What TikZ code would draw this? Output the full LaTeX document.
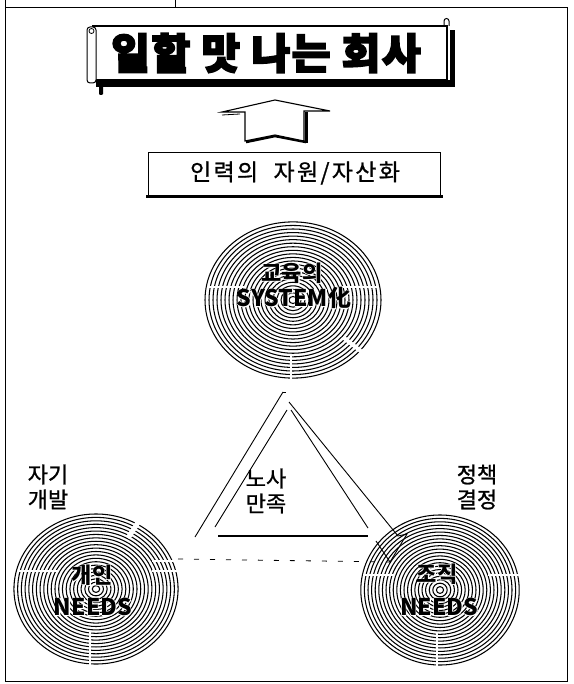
\documentclass[tikz,border=0pt]{standalone}
\usepackage{fontspec}
\newfontfamily\kr{Noto Sans CJK KR}
\newfontfamily\krheavy{Noto Sans CJK KR}[BoldFeatures={FakeBold=4}]
\newfontfamily\krmid{Noto Sans CJK KR}[FakeBold=1]
\begin{document}
\begin{tikzpicture}[x=1pt,y=-1pt,
  frameline/.style={line width=0.9pt},
  ring/.style={line width=1.05pt},
  gap/.style={white,line width=2.6pt},
  tri/.style={line width=0.9pt},
  lbl/.style={font=\krmid\fontsize{22}{24}\selectfont, inner sep=0pt, align=center},
  halo/.style={text=white, inner sep=0pt},
  ctext/.style={font=\kr\bfseries\fontsize{22}{24}\selectfont, inner sep=0pt},
  etext/.style={font=\kr\bfseries\fontsize{23}{26}\selectfont, inner sep=0pt}]
\useasboundingbox (0,0) rectangle (573,684);
% frame
\draw[frameline] (5,0) -- (5,681) -- (567,681) -- (567,7) -- (5,7);
\draw[frameline] (175,0) -- (175,7);
% ---- banner ----
\draw[line width=1.1pt] (93,26) rectangle (447,80);
\fill (96,80) rectangle (455,87);
\fill[rounded corners=1pt] (99,85) rectangle (103,95);
\fill (450,30) rectangle (455,87);
\draw[line width=1pt, fill=white, rounded corners=3pt] (87,27) rectangle (96,83);
\draw[line width=0.8pt] (91.5,31) circle (2.5pt);
\draw[line width=1pt] (444,26) -- (444,21) arc[start angle=180, end angle=0, radius=2.5pt] -- (449,26);
\node[font=\krheavy\bfseries\fontsize{42}{46}\selectfont, inner sep=0pt] (title) at (266,53) {\addfontfeature{LetterSpace=4}일할 맛 나는 회사};
% ---- up arrow ----
\draw[line width=3pt] (306,112) -- (306,143);
\draw[line width=2.6pt] (246,142) -- (275,136) -- (306,142);
\draw[line width=1.1pt, fill=white] (245,141) -- (245,112) -- (222,112) -- (275,100) -- (330,111) -- (304,111) -- (304,141) -- (275,135) -- cycle;
\draw[line width=0.8pt] (222,115) -- (240,114);
% ---- box ----
\draw[line width=0.9pt] (148,197) -- (148,152) -- (440,152) -- (440,197);
\draw[line width=3pt] (146,197) -- (443,197);
\node[font=\krmid\fontsize{23}{26}\selectfont, inner sep=0pt] (res) at (295,173) {\addfontfeature{LetterSpace=10}인력의\hspace{8pt} 자원/자산화};
% ---- circles ----
\coordinate (tc) at (293,300);
\coordinate (lc) at (96,589);
\coordinate (rc) at (440,590);
\foreach \i in {1,...,22} {
  \draw[ring] (tc) ellipse [x radius={\i*4.0pt}, y radius={\i*3.55pt}];
  \draw[ring] (lc) ellipse [x radius={\i*3.73pt}, y radius={\i*3.41pt}];
  \draw[ring] (rc) ellipse [x radius={\i*3.6pt}, y radius={\i*3.41pt}];
}
% white gaps (scan breaks)
\draw[gap] (208,287) -- (246,287);
\draw[gap] (340,287) -- (379,287);
\draw[gap,line width=4pt] (344,338) -- (362,352);
\draw[gap] (291,356) -- (291,380);
\draw[gap,line width=5pt] (128,538) -- (139,521);
\draw[gap] (18,571) -- (58,571);
\draw[gap] (152,571) -- (180,571);
\draw[gap] (152,561) -- (178,561);
\draw[gap] (90,632) -- (90,666);
\draw[gap] (437,632) -- (437,667);
\draw[gap] (363,575) -- (395,575);
\draw[gap] (488,575) -- (520,575);
% circle texts (white halo, then black)
\node[ctext,halo] (t1h) at (292,273) {\addfontfeature{FakeBold=5}교육의};
\node[etext,halo] (t2h) at (294,298) {\addfontfeature{FakeBold=5}SYSTEM化};
\node[ctext,halo] (l1h) at (92,575) {\addfontfeature{FakeBold=5}개인};
\node[etext,halo] (l2h) at (93,607) {\addfontfeature{FakeBold=5}NEEDS};
\node[ctext,halo] (r1h) at (437,574) {\addfontfeature{FakeBold=5}조직};
\node[etext,halo] (r2h) at (439,607) {\addfontfeature{FakeBold=5}NEEDS};
\node[ctext] (t1) at (292,273) {교육의};
\node[etext] (t2) at (294,298) {SYSTEM化};
\node[ctext] (l1) at (92,575) {개인};
\node[etext] (l2) at (93,607) {NEEDS};
\node[ctext] (r1) at (437,574) {조직};
\node[etext] (r2) at (439,607) {NEEDS};
% ---- triangle ----
\coordinate (apexL) at (283,392);
\coordinate (oL) at (195,537);
\coordinate (apexIL) at (287,410);
\coordinate (iL) at (215,527);
\coordinate (bL) at (218,536);
\coordinate (bR) at (368,536);
\coordinate (apexIR) at (291,410);
\coordinate (iR) at (368,528);
\coordinate (apexOR) at (289,402);
\coordinate (oR) at (398,536);
\coordinate (barb) at (407,534);
\coordinate (tip) at (390,562);
\coordinate (lb) at (376,541);
\draw[tri] (apexL) -- (oL);
\draw[tri] (apexL) -- ++(3,0);
\draw[tri] (apexIL) -- (iL);
\draw[line width=1.4pt] (bL) -- (bR);
\draw[tri] (apexIR) -- (iR);
\draw[tri] (apexOR) -- (oR) -- (barb) -- (tip) -- (lb);
% dashed line
\coordinate (dS) at (178,559);
\draw[line width=0.8pt, dash pattern=on 5pt off 11pt] (dS) -- (tip);
% ---- labels ----
\node[lbl] (self) at (48,487) {자기\\[1pt]개발};
\node[lbl] (pol) at (477,487) {정책\\[1pt]결정};
\node[lbl] (sat) at (266,491) {노사\\[1pt]만족};
\end{tikzpicture}
\end{document}
